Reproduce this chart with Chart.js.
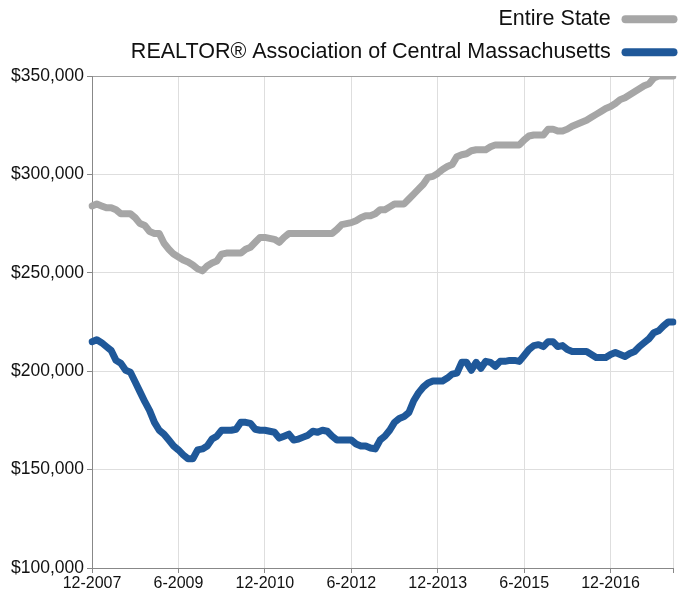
<!DOCTYPE html>
<html>
<head>
<meta charset="utf-8">
<script src="https://cdn.jsdelivr.net/npm/chart.js@4.4.1/dist/chart.umd.min.js"></script>
<style>
html,body{margin:0;padding:0;background:#fff;}
#wrap{width:686px;height:596px;position:relative;}
</style>
</head>
<body>
<div id="wrap"><canvas id="c" width="686" height="596"></canvas></div>
<script>
// Monthly categories from 12-2007 through 1-2018
const startMonth = 12, startYear = 2007, monthCount = 122;
const categories = [];
for (let i = 0; i < monthCount; i++) {
  const m = ((startMonth - 1 + i) % 12) + 1;
  const y = startYear + Math.floor((startMonth - 1 + i) / 12);
  categories.push(m + '-' + y);
}
const tickLabels = ['12-2007','6-2009','12-2010','6-2012','12-2013','6-2015','12-2016'];
const yTicks = [100000,150000,200000,250000,300000,350000];

const seriesNames = ['Entire State', 'REALTOR® Association of Central Massachusetts'];

const entireState = [
284000,285000,284000,283000,283000,282000,280000,280000,280000,278000,
275000,274000,271000,270000,270000,265000,262000,259500,258000,256500,
255500,254000,252000,251000,253500,255000,256000,259500,260000,260000,
260000,260000,262000,263000,265500,268000,268000,267500,267000,265500,
268000,270000,270000,270000,270000,270000,270000,270000,270000,270000,
270000,272000,274500,275000,275500,276500,278000,279000,279000,280000,
282000,282000,283500,285000,285000,285000,287500,290000,292500,295000,
298500,299000,300500,302500,304000,305000,309000,310000,310500,312000,
312500,312500,312500,314000,315000,315000,315000,315000,315000,315000,
317500,319500,320000,320000,320000,323000,323000,322000,322000,323000,
324500,325500,326500,327500,329000,330500,332000,333500,334500,336000,
338000,339000,340500,342000,343500,345000,346000,349000,350000,350000,
350000,350000
];

const centralMass = [
215000,216000,214500,212500,210500,205500,204000,200500,199500,194500,
189500,184500,180000,174000,170000,168000,165000,162000,160000,157500,
155500,155500,160000,160500,162000,165500,167000,170000,170000,170000,
170500,174000,174000,173500,170500,170000,170000,169500,169000,166000,
167000,168000,165000,165500,166500,167500,169500,169000,170000,169500,
167000,165000,165000,165000,165000,163000,162000,162000,161000,160500,
165000,167000,170000,174000,176000,177000,179000,185000,189000,192000,
194000,195000,195000,195000,196500,198500,199000,204500,204500,200500,
204500,201500,205000,204500,202500,205000,205000,205500,205500,205000,
208000,211000,213000,213500,212500,215000,215000,212500,213000,211000,
210000,210000,210000,210000,208500,207000,207000,207000,208500,209500,
208500,207500,209000,210000,212500,214500,216500,219500,220500,223000,
225000,225000
];

const grayColor = '#a6a6a6';
const blueColor = '#1f5899';
const font = "'Liberation Sans', Arial, sans-serif";

const legendShift = {
  id: 'legendShift',
  afterLayout(chart) {
    const lg = chart.legend;
    if (!lg) return;
    lg.left += 16; lg.right += 16;
    lg.top -= 3; lg.bottom -= 3;
  }
};

new Chart(document.getElementById('c'), {
  type: 'line',
  plugins: [legendShift],
  data: {
    labels: categories,
    datasets: [
      { label: seriesNames[0], data: entireState, borderColor: grayColor, backgroundColor: grayColor,
        borderWidth: 7, pointRadius: 0, tension: 0, borderJoinStyle: 'round', borderCapStyle: 'round' },
      { label: seriesNames[1], data: centralMass, borderColor: blueColor, backgroundColor: blueColor,
        borderWidth: 7, pointRadius: 0, tension: 0, borderJoinStyle: 'round', borderCapStyle: 'round' }
    ]
  },
  options: {
    responsive: false,
    animation: false,
    devicePixelRatio: 1,
    layout: { padding: { left: 0, right: 13, top: 0, bottom: 0 } },
    plugins: {
      tooltip: { enabled: false },
      legend: {
        position: 'top',
        align: 'start',
        rtl: true,
        labels: {
          font: { family: font, size: 21.5 },
          color: '#111',
          boxWidth: 56,
          boxHeight: 8,
          padding: 11.5,
          useBorderRadius: true,
          borderRadius: 4,
          generateLabels: (chart) => Chart.defaults.plugins.legend.labels.generateLabels(chart)
            .map(it => Object.assign(it, { lineWidth: 0 }))
        }
      }
    },
    scales: {
      x: {
        type: 'category',
        offset: false,
        afterFit: (s) => { s.height = 28; },
        grid: {
          color: '#dedede',
          tickColor: '#888',
          tickLength: 5,
          drawOnChartArea: true
        },
        border: { color: '#888', width: 1 },
        ticks: {
          autoSkip: false,
          maxRotation: 0,
          padding: 1,
          color: '#111',
          font: { family: font, size: 16 },
          callback: function(value, index) {
            const lab = categories[index];
            if (tickLabels.includes(lab)) return lab;
            if (index === categories.length - 1) return '';
            return null;
          }
        }
      },
      y: {
        min: 100000,
        max: 350000,
        afterFit: (s) => { s.width = 92; },
        grid: {
          color: (ctx) => ctx.tick && ctx.tick.value === 350000 ? '#a0a0a0' : '#dedede',
          tickColor: '#888',
          tickLength: 5
        },
        border: { color: '#888', width: 1 },
        afterBuildTicks: (s) => { s.ticks = yTicks.map(v => ({ value: v })); },
        ticks: {
          padding: 3,
          color: '#111',
          font: { family: font, size: 17.5 },
          callback: (v) => '$' + Number(v).toLocaleString('en-US')
        }
      }
    }
  }
});
</script>
</body>
</html>
